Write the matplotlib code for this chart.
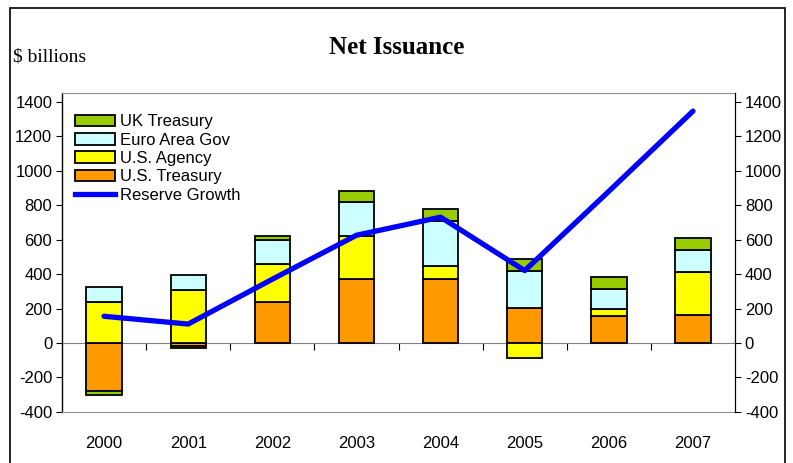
import numpy as np
import matplotlib.pyplot as plt
from matplotlib.patches import Rectangle, Patch
from matplotlib.lines import Line2D

plt.rcParams["axes.unicode_minus"] = False

# $ billions
years = ["2000", "2001", "2002", "2003", "2004", "2005", "2006", "2007"]
us_treasury = [-280, -15, 240, 370, 370, 205, 155, 165]
us_agency = [240, 305, 220, 250, 75, -85, 40, 245]
euro_gov = [85, 90, 140, 200, 265, 215, 120, 130]
uk_treasury = [-20, -12, 20, 60, 65, 70, 65, 70]
reserve_growth = [155, 110, 370, 625, 730, 420, 880, 1345]

y_ticks = [-400, -200, 0, 200, 400, 600, 800, 1000, 1200, 1400]

series = [("U.S. Treasury", us_treasury, "#FF9900"),
          ("U.S. Agency", us_agency, "#FFFF00"),
          ("Euro Area Gov", euro_gov, "#CCFFFF"),
          ("UK Treasury", uk_treasury, "#99CC00")]

fig = plt.figure(figsize=(7.93, 4.63), dpi=100)
ax = fig.add_axes([0.0782, 0.1102, 0.8487, 0.6889])
x = np.arange(len(years))
ymin, ymax = -400, 1450

pos = np.zeros(len(years))
neg = np.zeros(len(years))
for name, vals, col in series:
    v = np.array(vals, dtype=float)
    bottom = np.where(v >= 0, pos, neg)
    ax.bar(x, v, 0.42, bottom=bottom, color=col, edgecolor="black", linewidth=1.3, zorder=2)
    pos = np.where(v >= 0, pos + v, pos)
    neg = np.where(v < 0, neg + v, neg)

ax.plot(x, reserve_growth, color="#0000FF", linewidth=3.8, solid_capstyle="round", zorder=3)

ax.set_xlim(-0.5, len(years) - 0.5)
ax.set_ylim(ymin, ymax)
ax.set_yticks(y_ticks)
ax.tick_params(axis="y", direction="out", length=4, labelsize=12, pad=3)
ax.set_xticks(x)
ax.set_xticklabels(years, fontsize=12)
ax.tick_params(axis="x", length=0, pad=17)
for lab in ax.get_xticklabels() + ax.get_yticklabels():
    lab.set_fontfamily("Liberation Sans")
ax.spines["top"].set_color("#909090")
ax.spines["bottom"].set_color("#909090")
ax.spines["left"].set_linewidth(1.0)

# category axis through zero with ticks between categories
zero_frac = (0 - ymin) / (ymax - ymin)
sec = ax.secondary_xaxis(zero_frac)
sec.set_xticks(np.arange(len(years) - 1) + 0.5)
sec.tick_params(axis="x", direction="out", length=5, labelbottom=False, labeltop=False,
                bottom=True, top=False, color="black")
sec.spines["bottom"].set_color("#808080")
sec.spines["top"].set_visible(False)

ax2 = ax.twinx()
ax2.set_ylim(ymin, ymax)
ax2.set_yticks(y_ticks)
ax2.tick_params(axis="y", direction="out", length=4, labelsize=12, pad=3)
for lab in ax2.get_yticklabels():
    lab.set_fontfamily("Liberation Sans")
for s in ["top", "bottom", "left"]:
    ax2.spines[s].set_visible(False)

handles = [Patch(facecolor=c, edgecolor="black", linewidth=1.3, label=n) for n, v, c in series[::-1]]
handles.append(Line2D([0], [0], color="#0000FF", linewidth=3.8, label="Reserve Growth"))
leg = ax.legend(handles=handles, loc="upper left", bbox_to_anchor=(-0.006, 0.985), frameon=False,
                handlelength=2.4, handleheight=0.7, labelspacing=0.2,
                handletextpad=0.3, borderaxespad=0.6,
                prop={"family": "Liberation Sans", "size": 12})

fig.text(0.5, 0.897, "Net Issuance", ha="center", va="center", fontsize=18,
         fontweight="bold", family="Liberation Serif")
fig.text(0.017, 0.876, "$ billions", ha="left", va="center", fontsize=14,
         family="Liberation Serif")

fig.patches.append(Rectangle((10 / 793, -0.05), 775 / 793, 1.05 - 8 / 463, transform=fig.transFigure,
                             fill=False, edgecolor="black", linewidth=1.2))

fig.savefig("out.png", dpi=100)
